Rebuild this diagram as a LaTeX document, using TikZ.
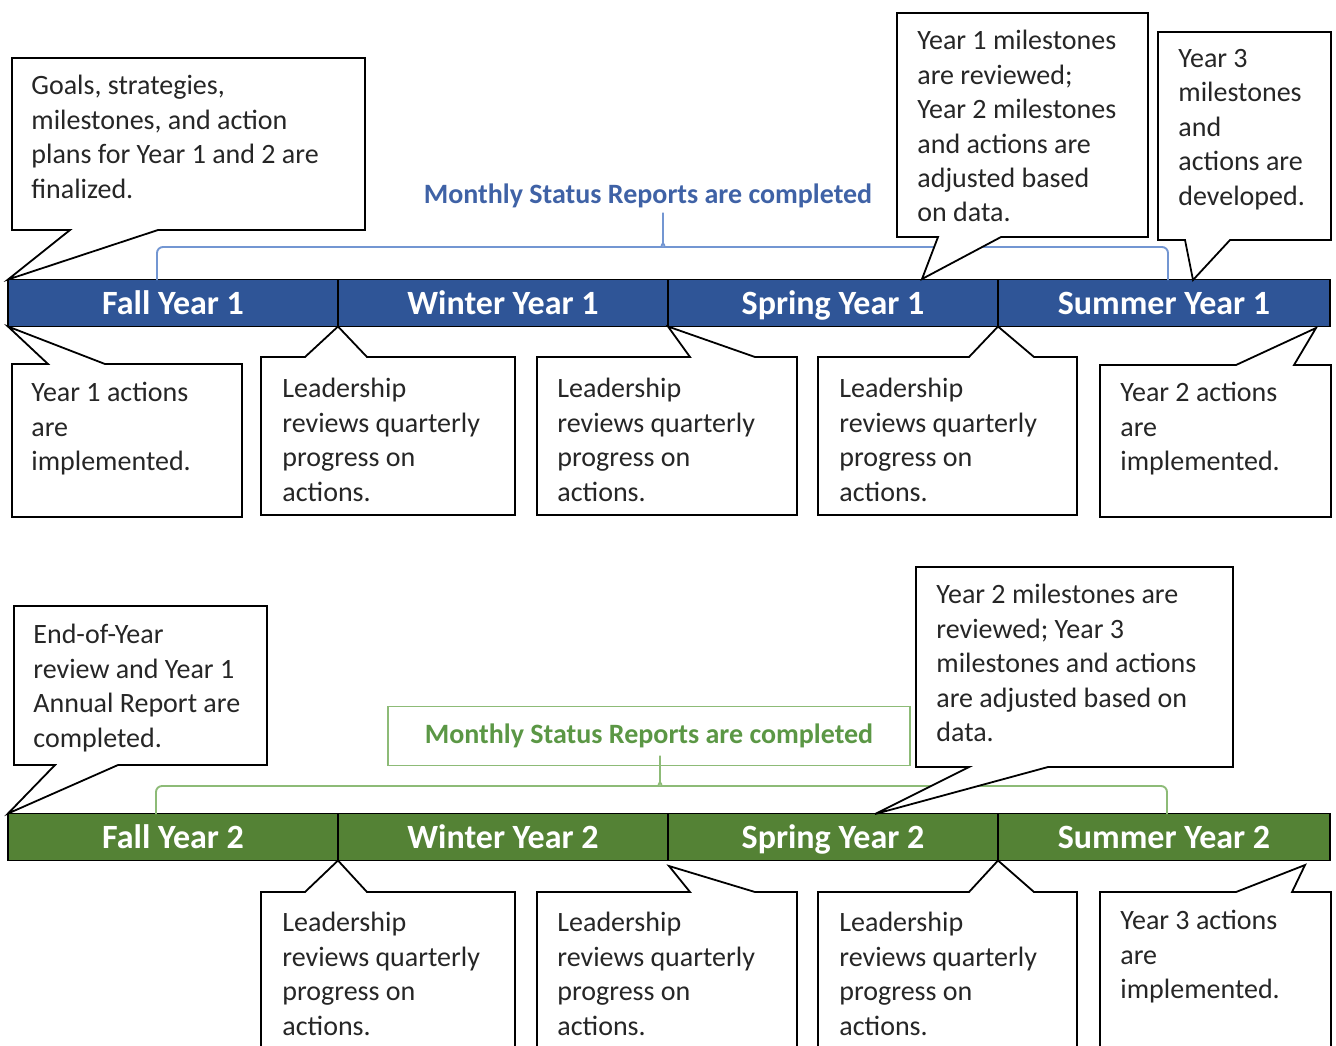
\documentclass[tikz,border=0pt]{standalone}
\usepackage{fontspec}
\setmainfont{Carlito}
\usetikzlibrary{positioning}

\definecolor{yearblue}{HTML}{2F5597}
\definecolor{yeargreen}{HTML}{548235}
\definecolor{braceblue}{HTML}{7396D2}
\definecolor{reportblue}{HTML}{3F62A6}
\definecolor{bracegreen}{HTML}{8DBB77}
\definecolor{reportgreen}{HTML}{5B9745}
\definecolor{notegray}{HTML}{262626}

\begin{document}
\begin{tikzpicture}[x=0.5pt,y=-0.5pt,
  season/.style={draw=black,line width=0.6pt,text=white,outer sep=0pt,inner sep=0pt,
    minimum width=165pt,minimum height=23.5pt,text height=11.7pt,text depth=0pt,
    font=\fontsize{17}{20}\selectfont\bfseries},
  callout/.style={draw=black,line width=0.9pt,fill=white},
  note/.style={anchor=north west,inner sep=0pt,align=left,text=notegray,
    font=\fontsize{14}{17.2}\selectfont},
  report/.style={font=\fontsize{14}{17}\selectfont\bfseries},
  brace/.style={line width=0.95pt,rounded corners=3pt}]

  \useasboundingbox (0,0) rectangle (1336,1045);
  \clip (0,0) rectangle (1336,1045);

  % year 1
  \node[season,fill=yearblue] (f1) at (173,303) {Fall Year 1};
  \node[season,fill=yearblue] (w1) [right=0pt of f1] {Winter Year 1};
  \node[season,fill=yearblue] (sp1) [right=0pt of w1] {Spring Year 1};
  \node[season,fill=yearblue,minimum width=166pt] (su1) [right=0pt of sp1] {Summer Year 1};

  \node[report,text=reportblue] (rep1) at (648,196) {Monthly Status Reports are completed};
  \draw[brace,draw=braceblue] (157,280) |- (656,247) to[out=0,in=-90] (663,238) -- (663,209)
    -- (663,238) to[out=-90,in=180] (670,247) -| (1168,280);

  \draw[callout] (12,58) -- (365,58) -- (365,230) -- (158,230) -- (f1.north west) -- (70,230) -- (12,230) -- cycle;
  \draw[callout] (897,13) -- (1148,13) -- (1148,237) -- (1001,237) -- (922,279) -- (938,237) -- (897,237) -- cycle;
  \draw[callout] (1158,32) -- (1331,32) -- (1331,240) -- (1230,240) -- (1193,280) -- (1185,240) -- (1158,240) -- cycle;
  \draw[callout] (12,517) -- (12,364) -- (48,364) -- (f1.south west) -- (105,364) -- (242,364) -- (242,517) -- cycle;
  \draw[callout] (261,515) -- (261,357) -- (305,357) -- (w1.south west) -- (367,357) -- (515,357) -- (515,515) -- cycle;
  \draw[callout] (537,515) -- (537,357) -- (690,357) -- (sp1.south west) -- (755,357) -- (797,357) -- (797,515) -- cycle;
  \draw[callout] (818,515) -- (818,357) -- (969,357) -- (su1.south west) -- (1034,357) -- (1077,357) -- (1077,515) -- cycle;
  \draw[callout] (1100,517) -- (1100,365) -- (1236,365) -- (1316,328) -- (1294,365) -- (1331,365) -- (1331,517) -- cycle;

  \node[note] (goals) at (31,75) {Goals, strategies,\\milestones, and action\\plans for Year 1 and 2 are\\finalized.};
  \node[note] (rev1) at (917,30) {Year 1 milestones\\are reviewed;\\Year 2 milestones\\and actions are\\adjusted based\\on data.};
  \node[note] (dev3) at (1178,49) {Year 3\\milestones\\and\\actions are\\developed.};
  \node[note] (act1) at (31,382) {Year 1 actions\\are\\implemented.};
  \node[note] (lead1) at (282,378) {Leadership\\reviews quarterly\\progress on\\actions.};
  \node[note] (lead2) at (557,378) {Leadership\\reviews quarterly\\progress on\\actions.};
  \node[note] (lead3) at (839,378) {Leadership\\reviews quarterly\\progress on\\actions.};
  \node[note] (act2) at (1120,382) {Year 2 actions\\are\\implemented.};

  % year 2
  \node[season,fill=yeargreen] (f2) at (173,837) {Fall Year 2};
  \node[season,fill=yeargreen] (w2) [right=0pt of f2] {Winter Year 2};
  \node[season,fill=yeargreen] (sp2) [right=0pt of w2] {Spring Year 2};
  \node[season,fill=yeargreen,minimum width=166pt] (su2) [right=0pt of sp2] {Summer Year 2};

  \node[report,text=reportgreen,draw=bracegreen,line width=0.8pt,minimum width=261pt,minimum height=29.5pt] (rep2) at (649,736) {Monthly Status Reports are completed};
  \draw[brace,draw=bracegreen] (156,814) |- (653,786) to[out=0,in=-90] (660,777) -- (660,752)
    -- (660,777) to[out=-90,in=180] (667,786) -| (1167,814);

  \draw[callout] (14,606) -- (267,606) -- (267,765) -- (118,765) -- (f2.north west) -- (55,765) -- (14,765) -- cycle;
  \draw[callout] (916,567) -- (1233,567) -- (1233,767) -- (1048,767) -- (875,814) -- (969,767) -- (916,767) -- cycle;
  \draw[callout] (261,1060) -- (261,892) -- (305,892) -- (w2.south west) -- (367,892) -- (515,892) -- (515,1060) -- cycle;
  \draw[callout] (537,1060) -- (537,892) -- (690,892) -- (669,866) -- (755,892) -- (797,892) -- (797,1060) -- cycle;
  \draw[callout] (818,1060) -- (818,892) -- (969,892) -- (su2.south west) -- (1034,892) -- (1077,892) -- (1077,1060) -- cycle;
  \draw[callout] (1100,1060) -- (1100,892) -- (1236,892) -- (1305,865) -- (1292,892) -- (1331,892) -- (1331,1060) -- cycle;

  \node[note] (eoy) at (33,624) {End-of-Year\\review and Year 1\\Annual Report are\\completed.};
  \node[note] (rev2) at (936,584) {Year 2 milestones are\\reviewed; Year 3\\milestones and actions\\are adjusted based on\\data.};
  \node[note] (lead4) at (282,912) {Leadership\\reviews quarterly\\progress on\\actions.};
  \node[note] (lead5) at (557,912) {Leadership\\reviews quarterly\\progress on\\actions.};
  \node[note] (lead6) at (839,912) {Leadership\\reviews quarterly\\progress on\\actions.};
  \node[note] (act3) at (1120,910) {Year 3 actions\\are\\implemented.};
\end{tikzpicture}
\end{document}
